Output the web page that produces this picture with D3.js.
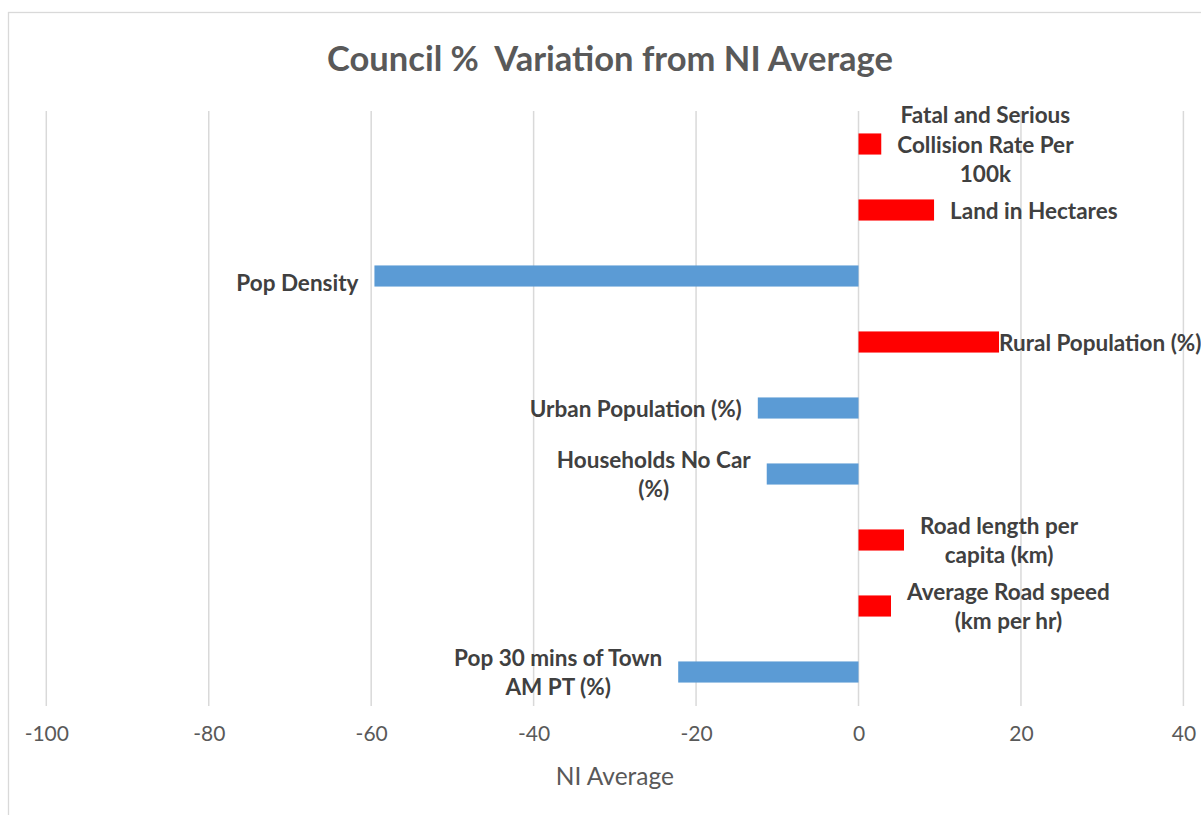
<!DOCTYPE html>
<html>
<head>
<meta charset="utf-8">
<script src="https://cdn.jsdelivr.net/npm/d3@7"></script>
<style>
  html, body { margin: 0; padding: 0; background: #fff; }
  svg { display: block; }
</style>
</head>
<body>
<svg id="chart" width="1201" height="815"></svg>
<script>
// Council indicators, % variation from the NI average (top to bottom)
const categories = [
  "Fatal and Serious Collision Rate Per 100k",
  "Land in Hectares",
  "Pop Density",
  "Rural Population (%)",
  "Urban Population (%)",
  "Households No Car (%)",
  "Road length per capita (km)",
  "Average Road speed (km per hr)",
  "Pop 30 mins of Town AM PT (%)"
];
const labelLines = [
  ["Fatal and Serious", "Collision Rate Per", "100k"],
  ["Land in Hectares"],
  ["Pop Density"],
  ["Rural Population (%)"],
  ["Urban Population (%)"],
  ["Households No Car", "(%)"],
  ["Road length per", "capita (km)"],
  ["Average Road speed", "(km per hr)"],
  ["Pop 30 mins of Town", "AM PT (%)"]
];
const values = [2.8, 9.3, -59.6, 17.3, -12.4, -11.3, 5.6, 4.0, -22.2];
const xTicks = [-100, -80, -60, -40, -20, 0, 20, 40];
const title = "Council %\u00a0 Variation from NI Average";
const xAxisTitle = "NI Average";

const W = 1201, H = 815;
const FONT = "Lato, 'Open Sans', sans-serif";
const svg = d3.select("#chart");

// chart frame
svg.append("rect")
  .attr("x", 8.5).attr("y", 12.5)
  .attr("width", W + 20).attr("height", H + 20)
  .attr("fill", "#fff").attr("stroke", "#d9d9d9").attr("stroke-width", 1.3);

const plot = { left: 46.3, right: 1183.4, top: 111, bottom: 705 };

const x = d3.scaleLinear().domain([-100, 40]).range([plot.left, plot.right]);
const y = d3.scaleBand().domain(categories).range([plot.top, plot.bottom])
  .paddingInner(0.68).paddingOuter(0.34);

// vertical gridlines
svg.append("g").selectAll("line").data(xTicks).join("line")
  .attr("x1", d => x(d)).attr("x2", d => x(d))
  .attr("y1", plot.top).attr("y2", plot.bottom + 1)
  .attr("stroke", "#d9d9d9").attr("stroke-width", 1.5);

// tick labels via a bottom axis with its lines hidden (plain hyphen minus)
const axis = svg.append("g")
  .attr("transform", `translate(0,${plot.bottom})`)
  .call(d3.axisBottom(x).tickValues(xTicks).tickSize(0).tickPadding(21).tickFormat(d => String(d)));
axis.select(".domain").remove();
axis.selectAll("text")
  .attr("font-family", FONT).attr("font-size", 21).attr("fill", "#595959");

// bars
svg.append("g").selectAll("rect").data(categories).join("rect")
  .attr("x", (d, i) => x(Math.min(0, values[i])))
  .attr("width", (d, i) => Math.abs(x(values[i]) - x(0)))
  .attr("y", d => y(d))
  .attr("height", y.bandwidth())
  .attr("fill", (d, i) => values[i] >= 0 ? "#ff0000" : "#5b9bd5");

// data labels (category names) just beyond each bar end
const lineH = 29.5;
const gap = 16;
const nudgeY = { "Pop Density": 6 };
const labels = svg.append("g");
categories.forEach((cat, i) => {
  const v = values[i];
  const lines = labelLines[i];
  const cy = y(cat) + y.bandwidth() / 2 + (nudgeY[cat] || 0);
  const t = labels.append("text")
    .attr("font-family", FONT).attr("font-weight", 700)
    .attr("font-size", 22.5).attr("fill", "#404040")
    .attr("text-anchor", "middle");
  const spans = lines.map((ln, k) => t.append("tspan")
    .attr("dominant-baseline", "central")
    .attr("y", cy + (k - (lines.length - 1) / 2) * lineH)
    .text(ln));
  const wBox = d3.max(spans, s => s.node().getComputedTextLength());
  let cx;
  if (v >= 0) {
    cx = x(v) + gap + wBox / 2;
    if (cx + wBox / 2 > W) cx = x(v) + wBox / 2;
  } else {
    cx = x(v) - gap - wBox / 2;
  }
  spans.forEach(s => s.attr("x", cx));
});

// title
svg.append("text")
  .attr("x", 610).attr("y", 57)
  .attr("text-anchor", "middle").attr("dominant-baseline", "central")
  .attr("font-family", FONT).attr("font-weight", 700).attr("font-size", 34.5)
  .attr("fill", "#595959")
  .text(title);

// axis title
svg.append("text")
  .attr("x", (plot.left + plot.right) / 2).attr("y", 775)
  .attr("text-anchor", "middle").attr("dominant-baseline", "central")
  .attr("font-family", FONT).attr("font-size", 24.5).attr("fill", "#595959")
  .text(xAxisTitle);
</script>
</body>
</html>
